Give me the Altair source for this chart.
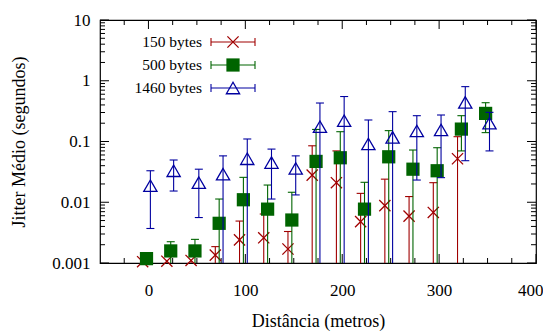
import altair as alt
import pandas as pd

# ---------------- data ----------------
series_names = ["150 bytes", "500 bytes", "1460 bytes"]
series_colors = ["#a00000", "#006400", "#0000a0"]

red_x = [-6, 19, 44, 69, 94, 119, 144, 169, 194, 219, 244, 269, 294, 319]
red_y = [0.00105, 0.00107, 0.0011, 0.00135, 0.0024, 0.0026, 0.0017, 0.028, 0.021,
         0.0048, 0.0088, 0.0059, 0.0068, 0.052]
red_hi = [None, None, None, 0.00186, 0.0049, 0.0064, 0.0033, 0.085, 0.07,
          0.014, 0.024, 0.0124, 0.021, 0.12]
red_lo = [None] * 14

green_x = [-2, 23, 48, 73, 98, 123, 148, 173, 198, 223, 248, 273, 298, 323, 348]
green_y = [0.00118, 0.00158, 0.00158, 0.0045, 0.011, 0.0077, 0.0051, 0.047, 0.054,
           0.0077, 0.056, 0.035, 0.033, 0.16, 0.29]
green_hi = [None, 0.00224, 0.00245, 0.0113, 0.0257, 0.0192, 0.0146, 0.158, 0.145,
            0.0213, 0.151, 0.0724, 0.079, 0.266, 0.435]
green_lo = [None, None, None, None, None, None, None, None, None,
            None, None, None, None, 0.07, 0.14]

blue_x = [2, 26, 52, 77, 102, 127, 152, 177, 202, 227, 252, 277, 302, 327, 352]
blue_y = [0.0187, 0.033, 0.021, 0.029, 0.052, 0.045, 0.036, 0.175, 0.22,
          0.091, 0.117, 0.149, 0.155, 0.44, 0.2]
blue_hi = [0.033, 0.0496, 0.035, 0.058, 0.11, 0.075, 0.058, 0.43, 0.55,
           0.226, 0.31, 0.266, 0.273, 0.8, 0.302]
blue_lo = [0.0037, 0.0153, 0.0056, None, None, 0.0113, 0.0132, None, None,
           None, None, 0.0232, 0.0254, 0.0483, 0.07]

x_major = [0, 100, 200, 300, 400]
x_minor = [-25, 25, 50, 75, 125, 150, 175, 225, 250, 275, 325, 350, 375]
y_major = [0.001, 0.01, 0.1, 1, 10]
y_mantissas = [2, 3, 4, 5, 6, 7, 8, 9]
y_decades = [0.001, 0.01, 0.1, 1]

X_DOMAIN = [-50, 400]
Y_DOMAIN = [0.001, 10]

# ---------------- layout ----------------
W, H = 436, 243
FONT = "Liberation Serif"
BELOW = 1e-4  # error bar running off the bottom of the log axis

xs = alt.Scale(domain=X_DOMAIN, nice=False, zero=False)
ys = alt.Scale(type="log", domain=Y_DOMAIN, nice=False)

x_axis = alt.Axis(values=x_major, format="d", labelFont=FONT, labelFontSize=17,
                  labelColor="black", labelPadding=32, labelBaseline="alphabetic",
                  labelFlush=True, labelFlushOffset=7, labelOverlap=False,
                  ticks=False, tickSize=0, domain=False, grid=False,
                  title="Distância (metros)", titleFont=FONT, titleFontSize=18,
                  titleFontWeight="normal", titleColor="black",
                  titleBaseline="alphabetic", titleAlign="center",
                  titleX=W / 2, titleY=63)
y_axis = alt.Axis(values=y_major, format="~g", labelFont=FONT, labelFontSize=17,
                  labelColor="black", labelPadding=10, labelFlush=False,
                  labelOverlap=False,
                  ticks=False, tickSize=0, domain=False, grid=False,
                  title="Jitter Médio (segundos)", titleFont=FONT, titleFontSize=18,
                  titleFontWeight="normal", titleColor="black",
                  titleAngle=270, titleBaseline="middle", titleAlign="center",
                  titleX=-81, titleY=H / 2)


def X(field):
    return alt.X(f"{field}:Q", scale=xs, axis=x_axis)


def Y(field):
    return alt.Y(f"{field}:Q", scale=ys, axis=y_axis)


layers = []

# ---- border ticks (gnuplot style, pointing inward, mirrored) ----
xmaj = pd.DataFrame({"v": x_major})
xmin = pd.DataFrame({"v": x_minor})
ymaj = pd.DataFrame({"v": y_major})
ymin = pd.DataFrame({"v": [m * d for d in y_decades for m in y_mantissas]})
MAJ, MIN = 9, 5
for df, ln in ((xmaj, MAJ), (xmin, MIN)):
    layers.append(alt.Chart(df).mark_rule(color="black", strokeWidth=1).encode(
        x=X("v"), y=alt.value(H), y2=alt.value(H - ln)))
    layers.append(alt.Chart(df).mark_rule(color="black", strokeWidth=1).encode(
        x=X("v"), y=alt.value(0), y2=alt.value(ln)))
for df, ln in ((ymaj, MAJ), (ymin, MIN)):
    layers.append(alt.Chart(df).mark_rule(color="black", strokeWidth=1).encode(
        y=Y("v"), x=alt.value(0), x2=alt.value(ln)))
    layers.append(alt.Chart(df).mark_rule(color="black", strokeWidth=1).encode(
        y=Y("v"), x=alt.value(W), x2=alt.value(W - ln)))

# ---- series ----
series = [
    (red_x, red_y, red_lo, red_hi),
    (green_x, green_y, green_lo, green_hi),
    (blue_x, blue_y, blue_lo, blue_hi),
]
X_SHAPE = "M-1,-1L1,1M-1,1L1,-1"


def point_props(i):
    c = series_colors[i]
    if i == 0:
        return dict(shape=X_SHAPE, filled=False, size=125,
                    stroke=c, strokeWidth=1.3, opacity=1)
    if i == 1:
        return dict(shape="square", filled=True, size=175,
                    fill=c, color=c, strokeWidth=0, opacity=1)
    return dict(shape="triangle-up", filled=False, size=175,
                stroke=c, strokeWidth=1.3, opacity=1)


for i, (sx, sy, slo, shi) in enumerate(series):
    c = series_colors[i]
    df = pd.DataFrame({
        "x": sx,
        "y": sy,
        "lo": [BELOW if v is None else v for v in slo],
        "hi": [sy[k] if v is None else v for k, v in enumerate(shi)],
    })
    lo_caps = pd.DataFrame({"x": [sx[k] for k, v in enumerate(slo) if v is not None],
                            "v": [v for v in slo if v is not None]})
    hi_caps = pd.DataFrame({"x": [sx[k] for k, v in enumerate(shi) if v is not None],
                            "v": [v for v in shi if v is not None]})
    layers.append(alt.Chart(df).mark_rule(color=c, strokeWidth=1.1, clip=True).encode(
        x=X("x"), y=Y("lo"), y2="hi:Q"))
    for caps in (lo_caps, hi_caps):
        if len(caps):
            layers.append(alt.Chart(caps).mark_tick(
                orient="horizontal", size=8, thickness=1.1, color=c, opacity=1
            ).encode(x=X("x"), y=Y("v")))
    layers.append(alt.Chart(df).mark_point(**point_props(i)).encode(
        x=X("x"), y=Y("y")))

# ---- legend (gnuplot style: label, then sample) ----
for i, name in enumerate(series_names):
    c = series_colors[i]
    ly = 22 + 23 * i
    ldf = pd.DataFrame({"name": [name]})
    layers.append(alt.Chart(ldf).mark_text(
        align="right", baseline="middle", font=FONT, fontSize=15.5, color="black"
    ).encode(x=alt.value(102), y=alt.value(ly), text="name:N"))
    layers.append(alt.Chart(ldf).mark_rule(color=c, strokeWidth=1.1).encode(
        x=alt.value(111), x2=alt.value(155), y=alt.value(ly)))
    for lx in (111, 155):
        layers.append(alt.Chart(ldf).mark_rule(color=c, strokeWidth=1.1).encode(
            x=alt.value(lx), y=alt.value(ly - 4), y2=alt.value(ly + 4)))
    layers.append(alt.Chart(ldf).mark_point(**point_props(i)).encode(
        x=alt.value(133), y=alt.value(ly)))

chart = alt.layer(*layers).properties(
    width=W, height=H,
    autosize=alt.AutoSizeParams(type="none"),
    padding={"left": 92, "top": 12, "right": 7, "bottom": 68},
    background="white",
).configure_view(stroke="black", strokeWidth=1.2)

chart.save("out.html", embed_options={"renderer": "svg", "actions": False})
